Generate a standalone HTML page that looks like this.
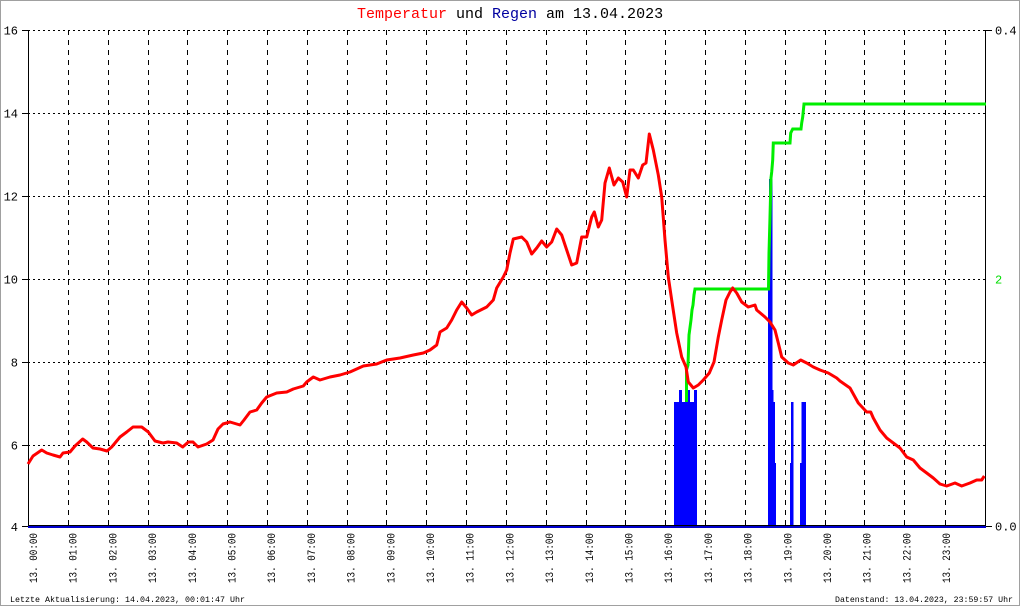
<!DOCTYPE html>
<html>
<head>
<meta charset="utf-8">
<style>
html,body{margin:0;padding:0;background:#fff;}
svg{display:block;}
text{font-family:"Liberation Mono","DejaVu Sans Mono",monospace;}
</style>
</head>
<body>
<svg width="1020" height="606" viewBox="0 0 1020 606" xmlns="http://www.w3.org/2000/svg">
<rect x="0.5" y="0.5" width="1019" height="605" fill="#fff" stroke="#a0a0a0" stroke-width="1"/>

<!-- title -->
<text x="357" y="18" font-size="15" fill="#000"><tspan fill="#ff0000">Temperatur</tspan> und <tspan fill="#0000a0">Regen</tspan> am 13.04.2023</text>

<!-- horizontal grid -->
<g stroke="#000" stroke-width="1" stroke-dasharray="2,3" shape-rendering="crispEdges">
<line x1="28" y1="30.5" x2="985" y2="30.5"/>
<line x1="28" y1="113.5" x2="985" y2="113.5"/>
<line x1="28" y1="196.5" x2="985" y2="196.5"/>
<line x1="28" y1="279.5" x2="985" y2="279.5"/>
<line x1="28" y1="362.5" x2="985" y2="362.5"/>
<line x1="28" y1="445.5" x2="985" y2="445.5"/>
</g>
<!-- vertical grid -->
<g stroke="#000" stroke-width="1" stroke-dasharray="5,5" shape-rendering="crispEdges">
<line x1="68.5" y1="30" x2="68.5" y2="526"/>
<line x1="108.5" y1="30" x2="108.5" y2="526"/>
<line x1="148.5" y1="30" x2="148.5" y2="526"/>
<line x1="187.5" y1="30" x2="187.5" y2="526"/>
<line x1="227.5" y1="30" x2="227.5" y2="526"/>
<line x1="267.5" y1="30" x2="267.5" y2="526"/>
<line x1="307.5" y1="30" x2="307.5" y2="526"/>
<line x1="347.5" y1="30" x2="347.5" y2="526"/>
<line x1="386.5" y1="30" x2="386.5" y2="526"/>
<line x1="426.5" y1="30" x2="426.5" y2="526"/>
<line x1="466.5" y1="30" x2="466.5" y2="526"/>
<line x1="506.5" y1="30" x2="506.5" y2="526"/>
<line x1="546.5" y1="30" x2="546.5" y2="526"/>
<line x1="586.5" y1="30" x2="586.5" y2="526"/>
<line x1="625.5" y1="30" x2="625.5" y2="526"/>
<line x1="665.5" y1="30" x2="665.5" y2="526"/>
<line x1="705.5" y1="30" x2="705.5" y2="526"/>
<line x1="745.5" y1="30" x2="745.5" y2="526"/>
<line x1="785.5" y1="30" x2="785.5" y2="526"/>
<line x1="825.5" y1="30" x2="825.5" y2="526"/>
<line x1="864.5" y1="30" x2="864.5" y2="526"/>
<line x1="904.5" y1="30" x2="904.5" y2="526"/>
<line x1="945.5" y1="30" x2="945.5" y2="526"/>
</g>

<!-- axes -->
<g stroke="#000" stroke-width="1" shape-rendering="crispEdges">
<line x1="28.5" y1="30" x2="28.5" y2="527"/>
<line x1="985.5" y1="30" x2="985.5" y2="527"/>
<line x1="22" y1="30.5" x2="28" y2="30.5"/>
<line x1="22" y1="113.5" x2="28" y2="113.5"/>
<line x1="22" y1="196.5" x2="28" y2="196.5"/>
<line x1="22" y1="279.5" x2="28" y2="279.5"/>
<line x1="22" y1="362.5" x2="28" y2="362.5"/>
<line x1="22" y1="445.5" x2="28" y2="445.5"/>
<line x1="22" y1="526.5" x2="28" y2="526.5"/>
<line x1="985" y1="30.5" x2="992" y2="30.5"/>
<line x1="985" y1="526.5" x2="992" y2="526.5"/>
</g>

<!-- left labels -->
<g font-size="12" fill="#000" text-anchor="end">
<text x="18" y="34.5">16</text>
<text x="18" y="117.5">14</text>
<text x="18" y="200.5">12</text>
<text x="18" y="283.5">10</text>
<text x="18" y="366.5">8</text>
<text x="18" y="449.5">6</text>
<text x="18" y="531">4</text>
</g>
<!-- right labels -->
<g font-size="12">
<text x="995" y="34.5" fill="#000">0.4</text>
<text x="995" y="283.5" fill="#00dd00">2</text>
<text x="995" y="530.5" fill="#000">0.0</text>
</g>

<!-- rain bars -->
<g fill="#0000ff" shape-rendering="crispEdges">
<rect x="674" y="402" width="23" height="124"/>
<rect x="679" y="390" width="3" height="12"/>
<rect x="688" y="390" width="2" height="12"/>
<rect x="694" y="390" width="3" height="12"/>
<rect x="768" y="278" width="1" height="248"/>
<rect x="769" y="179" width="3.5" height="347"/>
<rect x="772.5" y="390" width="1" height="136"/>
<rect x="773.5" y="402" width="1.5" height="124"/>
<rect x="775" y="463" width="1" height="63"/>
<rect x="790" y="463" width="1" height="63"/>
<rect x="791" y="402" width="2.5" height="124"/>
<rect x="800" y="463" width="1.5" height="63"/>
<rect x="801.5" y="402" width="4.3" height="124"/>
</g>

<!-- baseline -->
<line x1="28" y1="525.5" x2="986" y2="525.5" stroke="#000" stroke-width="1" shape-rendering="crispEdges"/>
<line x1="28" y1="527" x2="986" y2="527" stroke="#0000cc" stroke-width="2" shape-rendering="crispEdges"/>

<!-- rain sum (green) -->
<polyline fill="none" stroke="#00ee00" stroke-width="3" stroke-linejoin="miter"
points="686.5,402 686.5,370 688,365 689,335 691,320 692,310 693,305 694,295 695,289 768.5,289 769,253 770,217 771,178 771.7,172 772.7,160 773.3,143 790,143 790.7,133 792.7,129 801,129 801.7,123 802.7,117 804,104 986,104"/>

<!-- temperature (red) -->
<polyline fill="none" stroke="#ff0000" stroke-width="3" stroke-linejoin="round"
points="28,464 33,456 41.7,450 46.7,453 53,455 60,457 63,453 70,452 75,446 82.7,439 86.7,442 93,448 100,449 107,451 111.7,447 120,437 126.7,432 133,427 141.7,427 148.3,432 155,441 163,443 168,442 176.7,443 182.7,447 188.3,442 193,442 198,447 206.7,444 213,440 218,429 223,424 230,422 236.7,424 240,425 244,420 250,412 256.7,410 261.7,403 266.7,397 276.7,393 286.7,392 293.3,389 303.3,386 306.7,382 313.3,377 320,380 330,377 340,375 350,372 363.3,366 376.7,364 386.7,360 400,358 413.3,355 423.3,353 430,350 436.7,345 440,332 446.7,328 451.7,320 456.7,310 461.7,302 466.7,308 471.7,315 476.7,312 486.7,307 493.3,300 496.7,288 503.3,277 506.7,270 510,253 513.3,239 521.7,237 526.7,242 531.7,254 536.7,248 541.7,241 546.7,247 551.7,242 556.7,229 561.7,235 566.7,250 571.7,265 576.7,263 581.7,237 586.7,237 591.7,217 594.3,212 598.3,227 601.7,220 605,183 609.3,168 614,185 618.3,178 622.7,182 626.7,197 630,170 633.3,170 638.3,178 642.7,165 646,163 649.3,134 653.3,150 658.3,175 661.7,197 665,240 668.3,277 671.7,300 676.7,333 681.7,357 686,367 688.3,382 693.3,388 698.3,385 703.3,380 709.3,373 714,362 718.3,337 721.7,320 726,300 730,292 732.7,288 736.7,293 741.7,302 748.3,307 755,305 756.7,310 765,317 770,322 775,330 778.3,343 781.7,357 788.3,363 793.3,365 800.7,360 806.7,363 813.3,367 820,370 828.3,373 836.7,378 840,381 850,388 858.3,403 866.7,412 870.7,412 873.3,418 880,430 886.7,438 893.3,443 900,448 906.7,457 913.3,460 920,468 926.7,473 933.3,478 940,484 946.7,486 955,483 961.7,486 970,483 976.7,480 981.7,480 984.3,476"/>

<!-- x labels -->
<g font-size="11" fill="#000" text-anchor="end">
<text transform="translate(37,533) rotate(-90)" textLength="50" lengthAdjust="spacingAndGlyphs">13. 00:00</text>
<text transform="translate(76.7,533) rotate(-90)" textLength="50" lengthAdjust="spacingAndGlyphs">13. 01:00</text>
<text transform="translate(116.4,533) rotate(-90)" textLength="50" lengthAdjust="spacingAndGlyphs">13. 02:00</text>
<text transform="translate(156.1,533) rotate(-90)" textLength="50" lengthAdjust="spacingAndGlyphs">13. 03:00</text>
<text transform="translate(195.8,533) rotate(-90)" textLength="50" lengthAdjust="spacingAndGlyphs">13. 04:00</text>
<text transform="translate(235.5,533) rotate(-90)" textLength="50" lengthAdjust="spacingAndGlyphs">13. 05:00</text>
<text transform="translate(275.2,533) rotate(-90)" textLength="50" lengthAdjust="spacingAndGlyphs">13. 06:00</text>
<text transform="translate(314.9,533) rotate(-90)" textLength="50" lengthAdjust="spacingAndGlyphs">13. 07:00</text>
<text transform="translate(354.6,533) rotate(-90)" textLength="50" lengthAdjust="spacingAndGlyphs">13. 08:00</text>
<text transform="translate(394.3,533) rotate(-90)" textLength="50" lengthAdjust="spacingAndGlyphs">13. 09:00</text>
<text transform="translate(434,533) rotate(-90)" textLength="50" lengthAdjust="spacingAndGlyphs">13. 10:00</text>
<text transform="translate(473.7,533) rotate(-90)" textLength="50" lengthAdjust="spacingAndGlyphs">13. 11:00</text>
<text transform="translate(513.4,533) rotate(-90)" textLength="50" lengthAdjust="spacingAndGlyphs">13. 12:00</text>
<text transform="translate(553.1,533) rotate(-90)" textLength="50" lengthAdjust="spacingAndGlyphs">13. 13:00</text>
<text transform="translate(592.8,533) rotate(-90)" textLength="50" lengthAdjust="spacingAndGlyphs">13. 14:00</text>
<text transform="translate(632.5,533) rotate(-90)" textLength="50" lengthAdjust="spacingAndGlyphs">13. 15:00</text>
<text transform="translate(672.2,533) rotate(-90)" textLength="50" lengthAdjust="spacingAndGlyphs">13. 16:00</text>
<text transform="translate(711.9,533) rotate(-90)" textLength="50" lengthAdjust="spacingAndGlyphs">13. 17:00</text>
<text transform="translate(751.6,533) rotate(-90)" textLength="50" lengthAdjust="spacingAndGlyphs">13. 18:00</text>
<text transform="translate(791.3,533) rotate(-90)" textLength="50" lengthAdjust="spacingAndGlyphs">13. 19:00</text>
<text transform="translate(831,533) rotate(-90)" textLength="50" lengthAdjust="spacingAndGlyphs">13. 20:00</text>
<text transform="translate(870.7,533) rotate(-90)" textLength="50" lengthAdjust="spacingAndGlyphs">13. 21:00</text>
<text transform="translate(910.4,533) rotate(-90)" textLength="50" lengthAdjust="spacingAndGlyphs">13. 22:00</text>
<text transform="translate(950.1,533) rotate(-90)" textLength="50" lengthAdjust="spacingAndGlyphs">13. 23:00</text>
</g>

<!-- footer -->
<text x="10" y="602" font-size="8.5" fill="#000" textLength="235" lengthAdjust="spacingAndGlyphs">Letzte Aktualisierung: 14.04.2023, 00:01:47 Uhr</text>
<text x="835" y="602" font-size="8.5" fill="#000" textLength="178" lengthAdjust="spacingAndGlyphs">Datenstand: 13.04.2023, 23:59:57 Uhr</text>
</svg>
</body>
</html>
